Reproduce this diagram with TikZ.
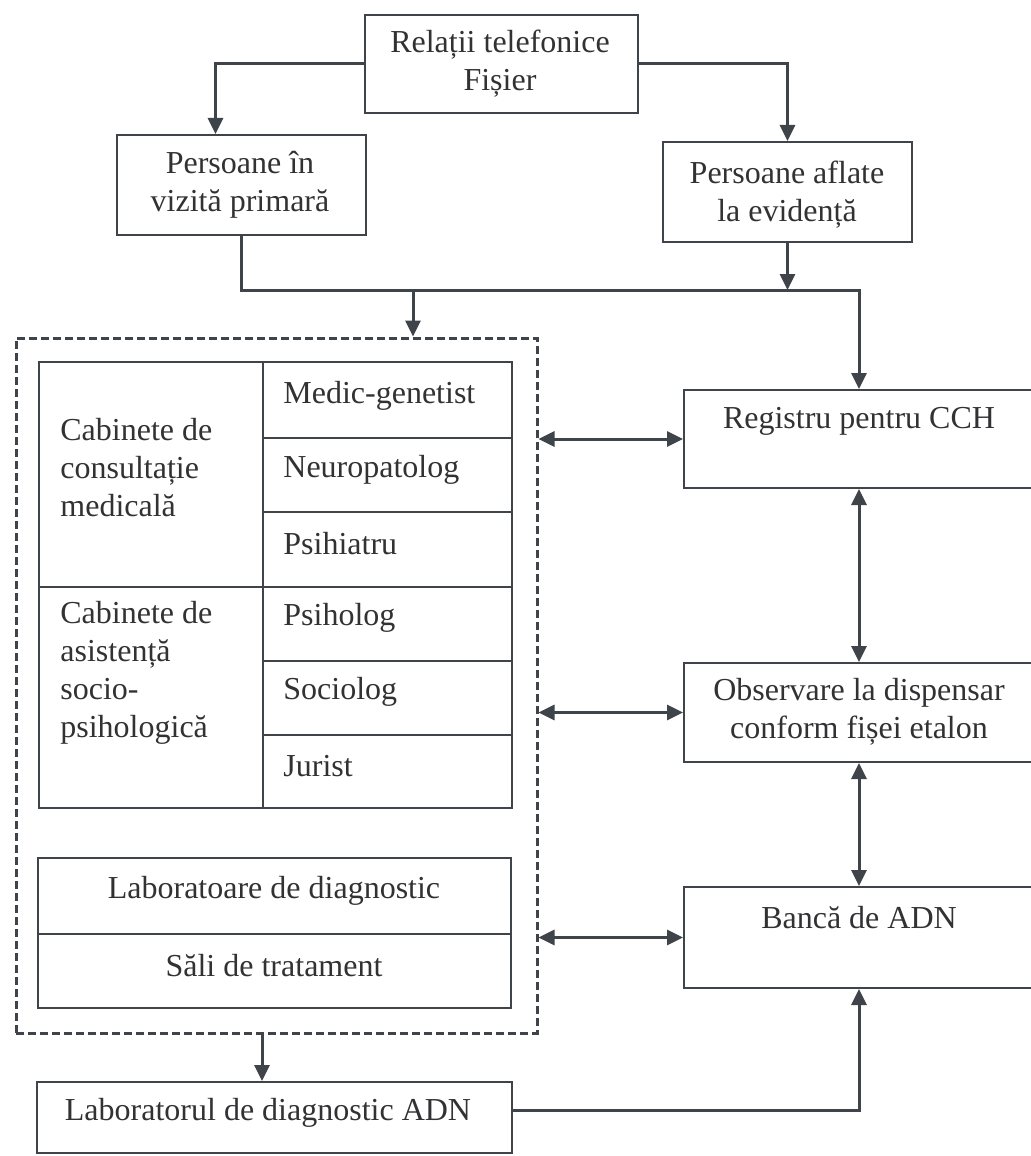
\documentclass[tikz,border=0pt]{standalone}
\usepackage{fontspec}
\setmainfont{Liberation Serif}
\usetikzlibrary{arrows.meta, fit, positioning}
\definecolor{inkgray}{RGB}{62,68,74}
\definecolor{textgray}{RGB}{50,50,52}
\tikzset{
	box/.style={draw=inkgray, line width=1pt, inner sep=0pt},
	label/.style={text=textgray, inner sep=0pt, align=center, font=\fontsize{16}{19}\selectfont},
	dashbox/.style={draw=inkgray, line width=1.5pt, inner sep=0pt, dash pattern=on 4pt off 2pt},
	flow/.style={draw=inkgray, line width=1.5pt, -{Triangle[length=8pt,width=7.5pt]}},
	both/.style={draw=inkgray, line width=1.5pt, {Triangle[length=8pt,width=7.5pt]}-{Triangle[length=8pt,width=7.5pt]}}
}

\begin{document}
\begin{tikzpicture}[x=0.5pt, y=-0.5pt]
		\useasboundingbox (0,0) rectangle (1031,1156);

		\node[box, fit={(365,15) (638,113)}] (tel) {};
		\node[label] (tel-t) at (500,64) {Relații telefonice\\Fișier};
		\node[box, fit={(117,135) (366,235)}] (vp) {};
		\node[label] (vp-t) at (240,185) {Persoane în\\vizită primară};
		\node[box, fit={(663,142) (912,242)}] (ev) {};
		\node[label] (ev-t) at (787,195) {Persoane aflate\\la evidență};

		\node[dashbox, fit={(16,338) (537,1033)}] (grp) {};

		\node[box, fit={(39,362) (263,587)}] (cons) {};
		\node[box, fit={(39,587) (263,808)}] (asist) {};
		\node[label, align=left, anchor=west] (cons-t) at (60,468) {Cabinete de\\consultație\\medicală};
		\node[label, align=left, anchor=west] (asist-t) at (60,673) {Cabinete de\\asistență\\socio-\\psihologică};
		\foreach \name/\txt/\ya/\yb/\yt in {med/Medic-genetist/362/438/396, neu/Neuropatolog/438/512/470, psi/Psihiatru/512/587/544, psh/Psiholog/587/661/618, soc/Sociolog/661/735/692, jur/Jurist/735/808/766} {
			\node[box, fit={(263,\ya) (512,\yb)}] (\name) {};
			\node[label, anchor=west] (\name-t) at (283,\yt) {\txt};
		}

		\node[box, fit={(38,858) (511,934)}] (lab) {};
		\node[label] (lab-t) at (274,891) {Laboratoare de diagnostic};
		\node[box, fit={(38,934) (511,1008)}] (sali) {};
		\node[label] (sali-t) at (274,966) {Săli de tratament};
		\node[box, fit={(37,1082) (512,1153)}] (adn) {};
		\node[label] (adn-t) at (268,1113) {Laboratorul de diagnostic ADN};

		\node[box, fit={(684,390) (1034,488)}] (reg) {};
		\node[label] (reg-t) at (859,421) {Registru pentru CCH};
		\node[box, fit={(684,663) (1034,762)}] (obs) {};
		\node[label] (obs-t) at (859,712) {Observare la dispensar\\conform fișei etalon};
		\node[box, fit={(684,887) (1034,988)}] (ban) {};
		\node[label] (ban-t) at (859,918) {Bancă de ADN};

		\coordinate (merge) at (413,290);

		\draw[flow] (tel.west) -| ([xshift=-13pt]vp.north);
		\draw[flow] (tel.east) -| (ev.north);
		\draw[flow] (vp.south) |- (merge -| reg.north) -- (reg.north);
		\draw[flow] (ev.south) -- (ev.south |- merge);
		\draw[flow] (merge) -- (merge |- grp.north);

		\draw[both] (grp.east |- reg.west) -- (reg.west);
		\draw[both] (grp.east |- obs.west) -- (obs.west);
		\draw[both] (grp.east |- ban.west) -- (ban.west);
		\draw[both] (reg.south) -- (obs.north);
		\draw[both] (obs.south) -- (ban.north);

		\draw[flow] (grp.south -| med.west) -- (adn.north -| med.west);
		\draw[flow] ([yshift=3.5pt]adn.east) -| (ban.south);
	\end{tikzpicture}
\end{document}
